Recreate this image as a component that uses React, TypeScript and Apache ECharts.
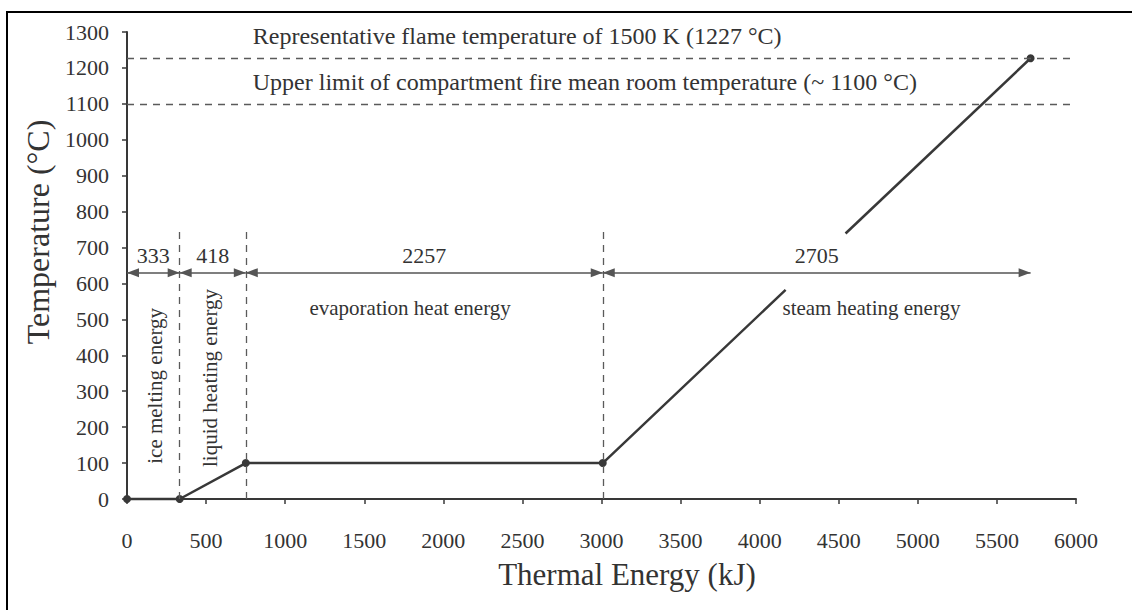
import React, { useEffect, useRef } from "react";
import * as echarts from "echarts";

// Axis ranges and tick spacing
const xMin = 0;
const xMax = 6000;
const xStep = 500;
const yMin = 0;
const yMax = 1300;
const yStep = 100;

// Heating curve of water: ice -> water -> steam (lower part, up to the label gap)
const heatingEnergy = [0, 333, 751, 3008, 4164];
const heatingTemp = [0, 0, 100, 100, 582];
const heatingDot = [true, true, true, true, false];

// Upper part of the steam heating line, ending at the flame temperature
const steamEnergy = [4543, 5713];
const steamTemp = [739, 1227];
const steamDot = [false, true];

// Stage boundaries (cumulative kJ) and the energy of each stage
const stageBounds = [0, 333, 751, 3008, 5713];
const stageEnergy = [333, 418, 2257, 2705];
const stageNames = [
  "ice melting energy",
  "liquid heating energy",
  "evaporation heat energy",
  "steam heating energy",
];
const dividerTop = [750, 750, 750, 1310];
const arrowTemp = 630;

// Reference temperatures
const refTemps = [1227, 1100];
const refLabels = [
  "Representative flame temperature of 1500 K (1227 °C)",
  "Upper limit of compartment fire mean room temperature (~ 1100 °C)",
];

// Annotation anchors in data space: [x, y, rotated]
const stageNameAnchor: [number, number, boolean][] = [
  [177, 315, true],
  [524, 337, true],
  [1790, 532, false],
  [4707, 532, false],
];
const refLabelX = 795;

export default function App() {
  const ref = useRef<HTMLDivElement>(null);

  useEffect(() => {
    const el = ref.current;
    if (!el) return;
    const chart = echarts.init(el, null, { renderer: "svg" });
    const font = "'Liberation Serif', 'Times New Roman', serif";
    const ink = "#333";
    const lineInk = "#383838";
    const dashInk = "#5a5a5a";

    const vDividers = stageBounds.slice(1).map((b, i) => [
      { coord: [b, 0] },
      { coord: [b, dividerTop[i]] },
    ]);
    const hRefs = refTemps.map((t) => [
      { coord: [xMin, t] },
      { coord: [xMax, t] },
    ]);
    const arrows = stageEnergy.map((_, i) => [
      { coord: [stageBounds[i], arrowTemp] },
      { coord: [stageBounds[i + 1], arrowTemp] },
    ]);

    const toPoints = (xs: number[], ys: number[], dots: boolean[]) =>
      xs.map((x, i) => ({
        value: [x, ys[i]],
        symbol: dots[i] ? "circle" : "none",
      }));

    const plain = (v: number) => String(v);

    const option: any = {
      animation: false,
      backgroundColor: "#fff",
      grid: { left: 127, right: 56, top: 32, bottom: 111, containLabel: false },
      xAxis: {
        type: "value",
        min: xMin,
        max: xMax,
        interval: xStep,
        axisLine: { show: true, lineStyle: { color: lineInk, width: 2 } },
        axisTick: { show: true, length: 5, lineStyle: { color: lineInk, width: 1.5 } },
        axisLabel: { color: ink, fontFamily: font, fontSize: 22, margin: 30, formatter: plain },
        splitLine: { show: false },
      },
      yAxis: {
        type: "value",
        min: yMin,
        max: yMax,
        interval: yStep,
        axisLine: { show: true, lineStyle: { color: lineInk, width: 2 } },
        axisTick: { show: true, length: 5, lineStyle: { color: lineInk, width: 1.5 } },
        axisLabel: { color: ink, fontFamily: font, fontSize: 22, margin: 18, formatter: plain },
        splitLine: { show: false },
      },
      series: [
        {
          type: "line",
          clip: false,
          data: toPoints(heatingEnergy, heatingTemp, heatingDot),
          symbolSize: 8,
          lineStyle: { color: lineInk, width: 2.5 },
          itemStyle: { color: lineInk },
          markLine: {
            silent: true,
            symbol: ["none", "none"],
            label: { show: false },
            lineStyle: { color: dashInk, width: 1.3, type: [7, 6] },
            data: [...vDividers, ...hRefs],
          },
        },
        {
          type: "line",
          clip: false,
          data: toPoints(steamEnergy, steamTemp, steamDot),
          symbolSize: 8,
          lineStyle: { color: lineInk, width: 2.5 },
          itemStyle: { color: lineInk },
          markLine: {
            silent: true,
            symbol: ["triangle", "triangle"],
            symbolSize: [9, 12],
            symbolOffset: [[0, 6], [0, 6]],
            label: { show: false },
            lineStyle: { color: "#555", width: 1.5, type: "solid" },
            itemStyle: { color: "#555" },
            data: arrows,
          },
        },
      ],
    };
    chart.setOption(option);

    const px = (x: number, y: number) =>
      chart.convertToPixel({ gridIndex: 0 }, [x, y]) as number[];

    const graphics: any[] = [
      {
        type: "rect",
        silent: true,
        shape: { x: 7, y: 12, width: 1160, height: 640 },
        style: { fill: "none", stroke: "#000", lineWidth: 2 },
      },
      {
        type: "text",
        x: 38,
        y: 232,
        rotation: Math.PI / 2,
        style: {
          text: "Temperature (°C)",
          fontFamily: font,
          fontSize: 32,
          fill: ink,
          align: "center",
          verticalAlign: "middle",
        },
      },
      {
        type: "text",
        x: 627,
        y: 574,
        style: {
          text: "Thermal Energy (kJ)",
          fontFamily: font,
          fontSize: 31,
          fill: ink,
          align: "center",
          verticalAlign: "middle",
        },
      },
    ];

    refTemps.forEach((t, i) => {
      const [x, y] = px(refLabelX, t);
      graphics.push({
        type: "text",
        x,
        y: y - 22,
        style: {
          text: refLabels[i],
          fontFamily: font,
          fontSize: 24,
          fill: ink,
          align: "left",
          verticalAlign: "middle",
        },
      });
    });

    stageEnergy.forEach((e, i) => {
      const [x, y] = px((stageBounds[i] + stageBounds[i + 1]) / 2, arrowTemp);
      graphics.push({
        type: "text",
        x,
        y: y - 17,
        style: {
          text: String(e),
          fontFamily: font,
          fontSize: 22,
          fill: ink,
          align: "center",
          verticalAlign: "middle",
        },
      });
    });

    stageNames.forEach((name, i) => {
      const [ax, ay, rotated] = stageNameAnchor[i];
      const [x, y] = px(ax, ay);
      graphics.push({
        type: "text",
        x,
        y,
        rotation: rotated ? Math.PI / 2 : 0,
        style: {
          text: name,
          fontFamily: font,
          fontSize: 21,
          fill: ink,
          align: "center",
          verticalAlign: "middle",
        },
      });
    });

    chart.setOption({ graphic: graphics });

    return () => chart.dispose();
  }, []);

  return (
    <div
      ref={ref}
      style={{
        position: "absolute",
        left: 0,
        top: 0,
        width: 1132,
        height: 610,
        background: "#fff",
      }}
    />
  );
}
